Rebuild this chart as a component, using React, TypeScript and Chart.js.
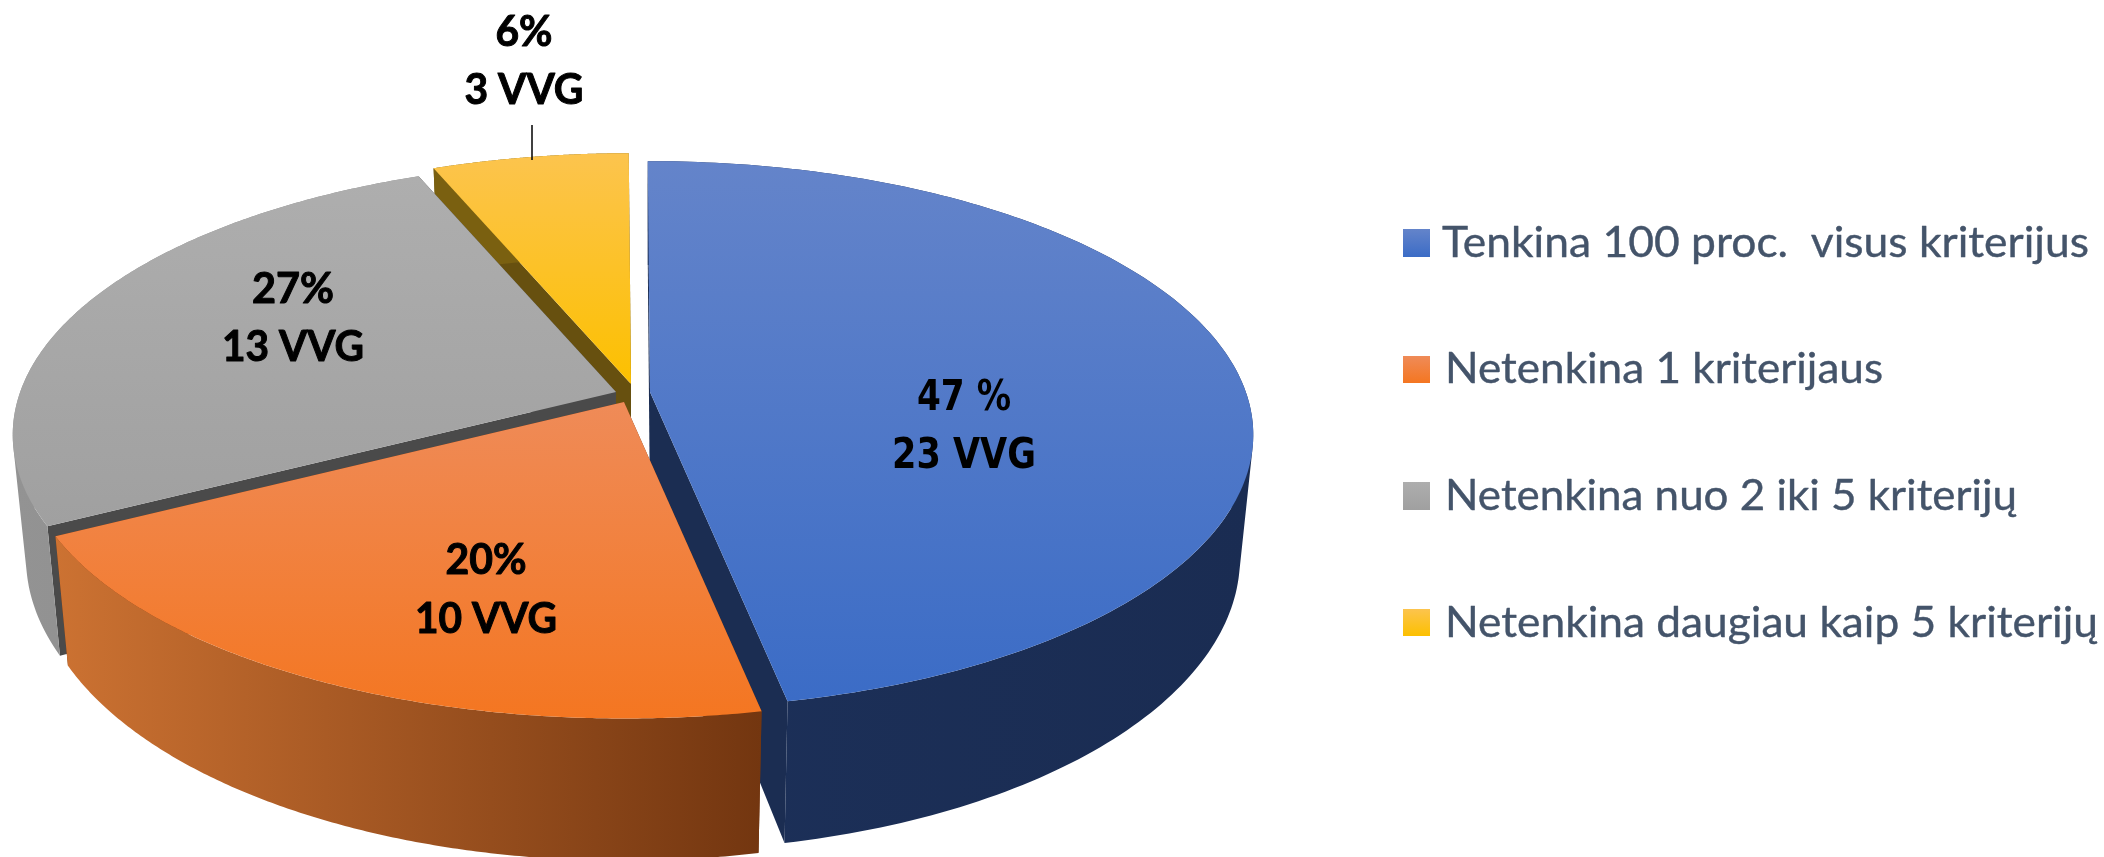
import React, { useEffect, useRef } from "react";
import { Chart, registerables } from "chart.js";

Chart.register(...registerables);

// ---- data ----
const categories = [
  "Tenkina 100 proc.  visus kriterijus",
  "Netenkina 1 kriterijaus",
  "Netenkina nuo 2 iki 5 kriterijų",
  "Netenkina daugiau kaip 5 kriterijų",
];
const vvgCounts = [23, 10, 13, 3];
const percentLabels = ["47 %", "20%", "27%", "6%"];
const countLabels = ["23 VVG", "10 VVG", "13 VVG", "3 VVG"];

// ---- colours ----
const faceTop = ["#6484ca", "#ef8b58", "#aeaeae", "#fcc44e"];
const faceBottom = ["#3b6cc6", "#f47621", "#a0a0a0", "#fcc000"];
const wallLeft = ["#1c3059", "#cc7232", "#939393", "#7a6010"];
const wallRight = ["#1a2c52", "#733610", "#8a8a8a", "#7a6010"];
const innerWall = ["#1b2d52", "#733610", "#4a4a4a", "#67500f"];

// ---- layout of the perspective drawing ----
const drawOrder = [3, 2, 0, 1];
const explodeX = [20, -6, -14, 1];
const explodeY = [0, 10, 0, -8];
const radiusXFactor = 1.52;
const radiusYFactor = 0.681;
const perspective = 0.1565;
const depth = 120;
const baseShrink = 0.978;
const labelCenterX = [964, 486, 293, 524];
const labelBaseA = [410, 574, 303, 46];
const labelBaseB = [468, 633, 361, 104];
const labelWidthA = [94, 81, 82, 57];
const labelWidthB = [144, 142, 142, 119];
const legendY = [
  { swatchTop: 229, swatchBottom: 257, base: 257, right: 2089, left: 1442 },
  { swatchTop: 356, swatchBottom: 383, base: 383, right: 1883, left: 1445 },
  { swatchTop: 482, swatchBottom: 510, base: 510, right: 2017, left: 1445 },
  { swatchTop: 609, swatchBottom: 636, base: 637, right: 2098, left: 1445 },
];

type Pt = { x: number; y: number };

function fittedText(
  ctx: CanvasRenderingContext2D,
  text: string,
  centerX: number,
  base: number,
  width: number,
  heavy: number
) {
  const w = ctx.measureText(text).width;
  ctx.save();
  ctx.translate(centerX, base);
  ctx.scale(width / w, 1);
  ctx.textAlign = "center";
  ctx.textBaseline = "alphabetic";
  ctx.fillText(text, 0, 0);
  if (heavy > 0) {
    ctx.lineWidth = heavy;
    ctx.lineJoin = "round";
    ctx.strokeStyle = ctx.fillStyle;
    ctx.strokeText(text, 0, 0);
  }
  ctx.restore();
}

const perspectivePie = {
  id: "perspectivePie",
  beforeDatasetDraw(chart: any) {
    const ctx: CanvasRenderingContext2D = chart.ctx;
    const arcs = chart.getDatasetMeta(0).data;
    for (const i of drawOrder) {
      const arc = arcs[i];
      const ax = arc.x + explodeX[i];
      const ay = arc.y + explodeY[i];
      const rx = arc.outerRadius * radiusXFactor;
      const ry = arc.outerRadius * radiusYFactor;
      const top = (a: number, r = 1): Pt => {
        const X = Math.cos(a) * r;
        const Y = Math.sin(a) * r;
        const p = 1 / (1 - perspective * Y);
        return { x: ax + rx * X * p, y: ay + ry * Y * p };
      };
      const bottom = (a: number, r = 1): Pt => {
        const t = top(a, r);
        const Y = Math.sin(a) * r;
        const p = 1 / (1 - perspective * Y);
        return { x: ax + (t.x - ax) * baseShrink, y: t.y + depth * p };
      };
      const steps = 180;
      const rim: number[] = [];
      for (let s = 0; s <= steps; s++) {
        rim.push(arc.startAngle + ((arc.endAngle - arc.startAngle) * s) / steps);
      }

      // inner cut walls
      ctx.fillStyle = innerWall[i];
      for (const a of [arc.startAngle, arc.endAngle]) {
        const c = top(a);
        const d = bottom(a);
        const e = bottom(a, 0);
        ctx.beginPath();
        ctx.moveTo(ax, ay);
        ctx.lineTo(c.x, c.y);
        ctx.lineTo(d.x, d.y);
        ctx.lineTo(e.x, e.y);
        ctx.closePath();
        ctx.fill();
      }

      // outer wall: one path of like-wound strips, so no seams show
      const rimTop = rim.map((a) => top(a));
      const rimBottom = rim.map((a) => bottom(a));
      const xs = rimTop.map((p) => p.x);
      const wallGrad = ctx.createLinearGradient(Math.min(...xs), 0, Math.max(...xs), 0);
      wallGrad.addColorStop(0, wallLeft[i]);
      wallGrad.addColorStop(1, wallRight[i]);
      ctx.fillStyle = wallGrad;
      ctx.beginPath();
      for (let k = 0; k < steps; k++) {
        const quad = [rimTop[k], rimTop[k + 1], rimBottom[k + 1], rimBottom[k]];
        let area = 0;
        quad.forEach((p, n) => {
          const q = quad[(n + 1) % 4];
          area += p.x * q.y - q.x * p.y;
        });
        if (area < 0) quad.reverse();
        quad.forEach((p, n) => (n ? ctx.lineTo(p.x, p.y) : ctx.moveTo(p.x, p.y)));
        ctx.closePath();
      }
      ctx.fill("nonzero");

      // top face
      const ys = rimTop.map((p) => p.y).concat(ay);
      const faceGrad = ctx.createLinearGradient(0, Math.min(...ys), 0, Math.max(...ys));
      faceGrad.addColorStop(0, faceTop[i]);
      faceGrad.addColorStop(1, faceBottom[i]);
      ctx.fillStyle = faceGrad;
      ctx.beginPath();
      ctx.moveTo(ax, ay);
      rimTop.forEach((p) => ctx.lineTo(p.x, p.y));
      ctx.closePath();
      ctx.fill();
    }
    return false;
  },
  afterDraw(chart: any) {
    const ctx: CanvasRenderingContext2D = chart.ctx;

    // leader line of the small slice
    ctx.strokeStyle = "#000000";
    ctx.lineWidth = 1.5;
    ctx.beginPath();
    ctx.moveTo(532, 125);
    ctx.lineTo(532, 160);
    ctx.stroke();

    // slice labels
    ctx.fillStyle = "#000000";
    categories.forEach((_, i) => {
      ctx.font = i === 0 ? "bold 42px 'DejaVu Sans'" : "bold 42px Lato";
      const heavy = i === 0 ? 0 : 1;
      fittedText(ctx, percentLabels[i], labelCenterX[i], labelBaseA[i], labelWidthA[i], heavy);
      fittedText(ctx, countLabels[i], labelCenterX[i], labelBaseB[i], labelWidthB[i], heavy);
    });

    // legend
    categories.forEach((name, i) => {
      const row = legendY[i];
      const g = ctx.createLinearGradient(0, row.swatchTop, 0, row.swatchBottom);
      g.addColorStop(0, faceTop[i]);
      g.addColorStop(1, faceBottom[i]);
      ctx.fillStyle = g;
      ctx.fillRect(1403, row.swatchTop, 27, row.swatchBottom - row.swatchTop);
      ctx.fillStyle = "#44546a";
      ctx.font = "43px Lato";
      fittedText(ctx, name, (row.left + row.right) / 2, row.base, row.right - row.left, 0.4);
    });
  },
};

export default function App() {
  const ref = useRef<HTMLCanvasElement | null>(null);
  useEffect(() => {
    const chart = new Chart(ref.current as HTMLCanvasElement, {
      type: "pie",
      data: {
        labels: categories,
        datasets: [
          {
            data: vvgCounts,
            backgroundColor: faceBottom,
            borderWidth: 0,
          },
        ],
      },
      options: {
        animation: false,
        responsive: false,
        events: [],
        rotation: -0.25,
        layout: { padding: { left: 0, top: 0, right: 844, bottom: 73 } },
        plugins: { legend: { display: false }, tooltip: { enabled: false } },
      },
      plugins: [perspectivePie],
    } as any);
    return () => chart.destroy();
  }, []);
  return (
    <div style={{ position: "fixed", left: 0, top: 0, width: 2104, height: 857, background: "#ffffff" }}>
      <canvas ref={ref} width={2104} height={857} style={{ display: "block" }} />
    </div>
  );
}
